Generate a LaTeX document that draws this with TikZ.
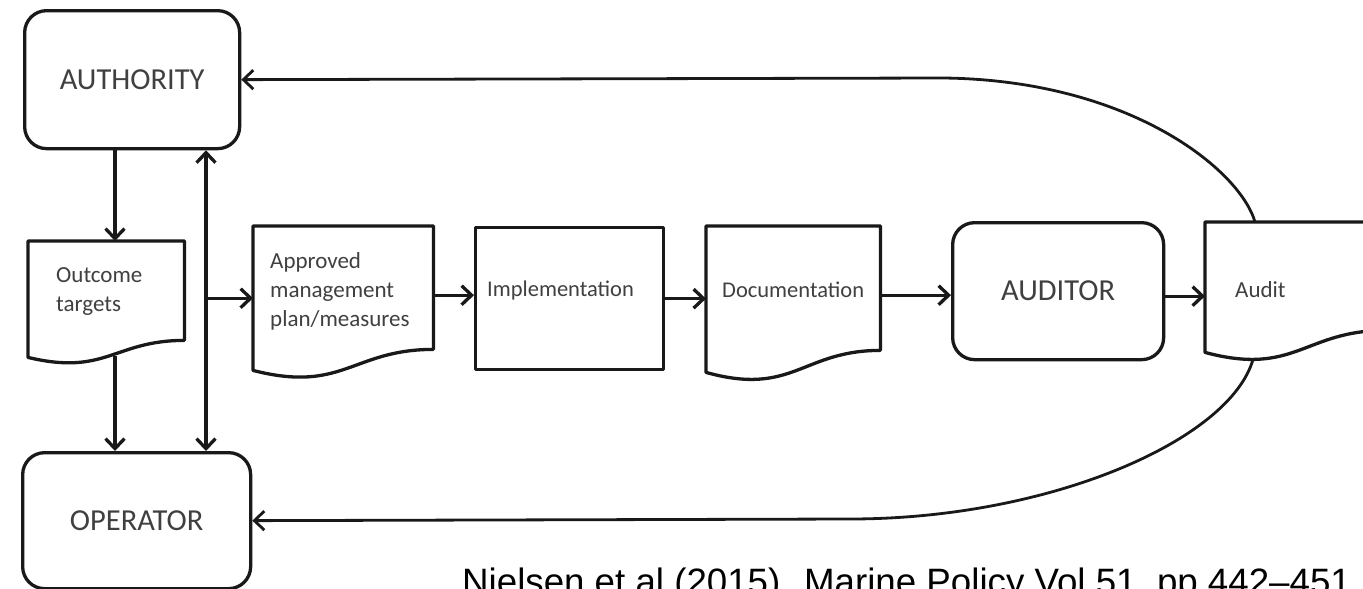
\documentclass[tikz,border=0pt]{standalone}
\usepackage{fontspec}
\setmainfont{Carlito}
\newfontfamily\capfont{Liberation Sans}
\usetikzlibrary{arrows.meta,calc}
\newcommand\docline[3]{%
  \draw[outline] (#1.south west) -- (#1.north west) -- (#1.north east)
    -- ($(#1.south east)+(0,-#3)$)
    .. controls ($(#1.south east)+(-0.45*#2,-#3)$) and ($(#1.south west)+(0.5*#2,1.1*#3)$) .. (#1.south west) -- cycle;}
\begin{document}
\begin{tikzpicture}[x=1pt,y=-1pt,
  outline/.style={draw=black!90, line width=3.3pt, line join=round},
  rbox/.style={outline, rectangle, rounded corners=22pt, inner sep=0pt, anchor=north west,
     text=black!75, font=\fontsize{30.5}{36}\selectfont},
  pbox/.style={outline, rectangle, inner sep=0pt, anchor=north west},
  dbox/.style={draw=none, rectangle, inner sep=0pt, anchor=north west},
  lbl/.style={anchor=west, inner sep=0pt, align=left, text=black!75,
     font=\fontsize{23}{29}\selectfont},
  arr/.style={draw=black!90, line width=3.3pt, -{Straight Barb[length=10pt,width=19pt]}},
  arrb/.style={draw=black!90, line width=3.3pt, {Straight Barb[length=10pt,width=19pt]}-{Straight Barb[length=10pt,width=19pt]}},
  arrc/.style={draw=black!90, line width=2.8pt, -{Straight Barb[length=10pt,width=19pt]}}
]
\useasboundingbox (0,0) rectangle (1363,589);
\fill[white] (0,0) rectangle (1363,589);

% main boxes
\node[rbox, minimum width=215pt, minimum height=138pt] (auth) at (23,9) {AUTHORITY};
\node[rbox, minimum width=228pt, minimum height=136pt] (op) at (21,451) {OPERATOR};
\node[rbox, minimum width=211pt, minimum height=137pt] (audr) at (951,221) {AUDITOR};
\node[pbox, minimum width=188pt, minimum height=142pt] (impl) at (474,226) {};

% documents
\node[dbox, minimum width=156pt, minimum height=116pt] (out) at (28,241) {};
\node[dbox, minimum width=180pt, minimum height=144pt] (appr) at (253,226) {};
\node[dbox, minimum width=174pt, minimum height=146pt] (docu) at (706,226) {};
\node[dbox, minimum width=180pt, minimum height=130pt] (audt) at (1205,222) {};
\docline{out}{156}{17}
\docline{appr}{180}{21}
\docline{docu}{174}{22}
\docline{audt}{180}{22}

% labels
\node[lbl] (outT) at (56,292) {Outcome\\targets};
\node[lbl] (apprT) at (270,291) {Approved\\management\\plan/measures};
\node[lbl, font=\fontsize{22.5}{28}\selectfont] (implT) at (487,290) {Implementation};
\node[lbl, font=\fontsize{22.5}{28}\selectfont] (docuT) at (722,290) {Documentation};
\node[lbl] (audtT) at (1235,290) {Audit};

% left connectors
\coordinate (a1) at ($(auth.south west)+(92,0)$);
\draw[arr] (a1) -- (a1 |- out.north);
\coordinate (o1) at ($(out.south west)+(87,-1)$);
\draw[arr] (o1) -- (o1 |- op.north);
\coordinate (d1) at ($(auth.south west)+(183,0)$);
\draw[arrb] (d1) -- (d1 |- op.north);
\draw[arr] (d1 |- appr.west) -- (appr.west);

% main flow
\draw[arr] ([yshift=3pt]appr.east) -- ([yshift=3pt]appr.east -| impl.west);
\draw[arr] (impl.east) -- (impl.east -| docu.west);
\draw[arr] ([yshift=4pt]docu.east) -- ([yshift=4pt]docu.east -| audr.west);
\draw[arr] ([yshift=-5pt]audr.east) -- ([yshift=-5pt]audr.east -| audt.west);

% feedback curves
\coordinate (ta) at ($(audt.north west)+(50,0)$);
\coordinate (tb) at (943,78);
\draw[arrc] (ta) .. controls (1240,170) and (1130,80) .. (tb) -- (auth.east);
\coordinate (ba) at ($(audt.south west)+(48,7)$);
\coordinate (bb) at (850,519);
\draw[arrc] (ba) .. controls (1230,440) and (1050,519) .. (bb) -- (op.east);

% caption
\node[anchor=base west, inner sep=0pt, font=\capfont\fontsize{36.7}{40}\selectfont] (cap) at (462,594) {Nielsen et al (2015). Marine Policy Vol 51, pp 442–451};
\end{tikzpicture}
\end{document}
